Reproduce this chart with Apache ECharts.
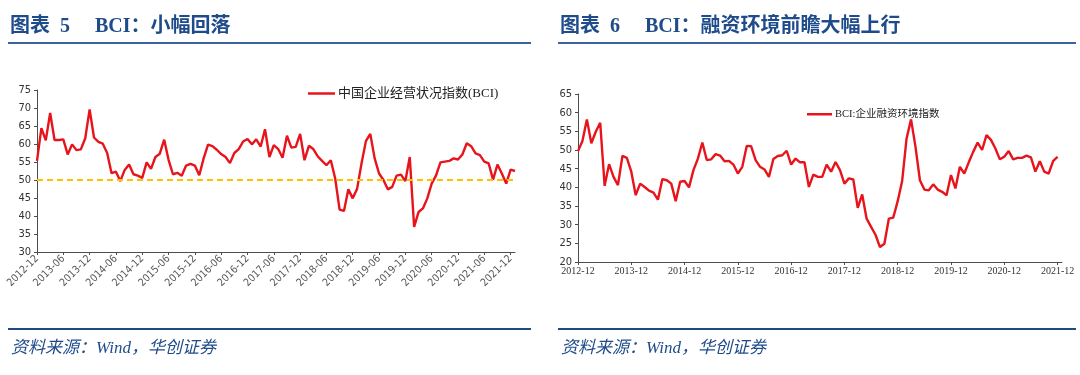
<!DOCTYPE html>
<html>
<head>
<meta charset="utf-8">
<script src="https://cdn.jsdelivr.net/npm/echarts@6/dist/echarts.min.js"></script>
<style>
html,body{margin:0;padding:0;background:#fff;}
#chart{width:1080px;height:375px;}
</style>
</head>
<body>
<div id="chart"></div>
<script>
// ---------- data ----------
const categories = [
  '2012-12',
  '2013-01','2013-02','2013-03','2013-04','2013-05','2013-06','2013-07','2013-08','2013-09','2013-10','2013-11','2013-12',
  '2014-01','2014-02','2014-03','2014-04','2014-05','2014-06','2014-07','2014-08','2014-09','2014-10','2014-11','2014-12',
  '2015-01','2015-02','2015-03','2015-04','2015-05','2015-06','2015-07','2015-08','2015-09','2015-10','2015-11','2015-12',
  '2016-01','2016-02','2016-03','2016-04','2016-05','2016-06','2016-07','2016-08','2016-09','2016-10','2016-11','2016-12',
  '2017-01','2017-02','2017-03','2017-04','2017-05','2017-06','2017-07','2017-08','2017-09','2017-10','2017-11','2017-12',
  '2018-01','2018-02','2018-03','2018-04','2018-05','2018-06','2018-07','2018-08','2018-09','2018-10','2018-11','2018-12',
  '2019-01','2019-02','2019-03','2019-04','2019-05','2019-06','2019-07','2019-08','2019-09','2019-10','2019-11','2019-12',
  '2020-01','2020-02','2020-03','2020-04','2020-05','2020-06','2020-07','2020-08','2020-09','2020-10','2020-11','2020-12',
  '2021-01','2021-02','2021-03','2021-04','2021-05','2021-06','2021-07','2021-08','2021-09','2021-10','2021-11','2021-12',
  '2022-01'
];

// 中国企业经营状况指数(BCI), 2012-12 .. 2022-01
const bciValues = [
  55.3, 64.4, 61.0, 68.6, 61.1, 61.1, 61.3, 57.1, 59.9, 58.3,
  58.5, 61.6, 69.6, 61.8, 60.6, 60.1, 57.5, 51.9, 52.3, 49.7,
  52.8, 54.3, 51.6, 51.2, 50.6, 54.9, 53.1, 56.4, 57.3, 61.2,
  55.6, 51.6, 52.0, 51.2, 54.0, 54.5, 54.0, 51.3, 56.0, 59.8,
  59.4, 58.4, 57.2, 56.4, 54.7, 57.5, 58.6, 60.7, 61.4, 59.9,
  61.3, 59.3, 64.1, 56.4, 59.7, 58.6, 56.2, 62.3, 59.0, 59.2,
  62.8, 55.5, 59.5, 58.6, 56.6, 55.3, 54.1, 55.5, 50.4, 41.8,
  41.4, 47.4, 44.9, 47.6, 54.6, 60.8, 62.8, 56.0, 51.8, 50.0,
  47.4, 48.1, 51.2, 51.5, 49.7, 56.4, 37.0, 41.1, 42.1, 44.9,
  49.0, 51.3, 54.9, 55.1, 55.3, 56.0, 55.7, 57.1, 60.2, 59.4,
  57.4, 56.9, 55.1, 54.6, 50.1, 54.3, 51.8, 49.0, 52.9, 52.5
];

// BCI:企业融资环境指数, 2012-12 .. 2021-12 (2022-01 not shown)
const financingValues = [
  49.7, 52.4, 58.2, 51.8, 54.9, 57.3, 40.4, 46.2, 42.8, 40.6,
  48.4, 47.9, 44.2, 37.9, 41.0, 40.1, 39.1, 38.6, 36.7, 42.2,
  41.9, 41.0, 36.3, 41.5, 41.7, 40.0, 44.6, 47.7, 52.0, 47.3,
  47.5, 48.9, 48.5, 47.0, 47.1, 46.1, 43.7, 45.5, 51.1, 51.0,
  47.3, 45.5, 44.8, 42.8, 47.6, 48.4, 48.6, 49.8, 46.1, 47.7,
  46.7, 46.7, 40.1, 43.4, 42.8, 42.8, 46.1, 44.2, 46.8, 44.6,
  41.0, 42.4, 42.1, 34.5, 38.1, 31.6, 29.4, 27.3, 24.0, 24.9,
  31.6, 31.9, 36.3, 41.7, 53.1, 58.2, 50.9, 41.9, 39.4, 39.2,
  40.8, 39.4, 38.8, 37.9, 43.3, 39.7, 45.5, 43.7, 46.7, 49.5,
  52.0, 50.0, 54.0, 52.7, 50.4, 47.5, 48.2, 49.7, 47.5, 47.9,
  47.9, 48.5, 48.0, 44.2, 47.0, 44.2, 43.7, 47.0, 48.2, null
];

const thresholdValue = 50;
const leftYTicks = {min: 30, max: 75, interval: 5};
const rightYTicks = {min: 20, max: 65, interval: 5};

const seriesNames = ['中国企业经营状况指数(BCI)', 'BCI:企业融资环境指数'];
const titles = ['图表  5     BCI：小幅回落', '图表  6     BCI：融资环境前瞻大幅上行'];
const sourceText = '资料来源：Wind，华创证券';

// ---------- styles ----------
const RED = '#E8141B';
const NAVY = '#1E4B8A';
const AXIS = '#4d4d4d';
const NARROW = "'Liberation Sans Narrow','DejaVu Sans Condensed','Roboto Condensed',sans-serif";
const SERIF = "'Liberation Serif','Noto Sans CJK SC',serif";

const chart = echarts.init(document.getElementById('chart'), null, {renderer: 'canvas'});

function yAxisCfg(gridIndex, t) {
  return {
    type: 'value', gridIndex: gridIndex,
    min: t.min, max: t.max, interval: t.interval,
    splitLine: {show: false},
    axisLine: {show: true, lineStyle: {color: AXIS, width: 1}},
    axisTick: {show: true, length: 3, lineStyle: {color: AXIS}},
    axisLabel: {color: '#333', fontSize: 11, fontFamily: NARROW, margin: 6}
  };
}

const titleStyle = {color: NAVY, fontSize: 20, fontWeight: 'bold', fontFamily: SERIF};
const sourceStyle = {color: NAVY, fontSize: 17, fontWeight: 'normal', fontStyle: 'italic', fontFamily: SERIF};

const option = {
  backgroundColor: '#fff',
  animation: false,
  title: [
    {text: titles[0], left: 5, top: 12, padding: 5, textStyle: titleStyle},
    {text: titles[1], left: 555, top: 12, padding: 5, textStyle: titleStyle},
    {text: sourceText, left: 6, top: 335, padding: 5, textStyle: sourceStyle},
    {text: sourceText, left: 556, top: 335, padding: 5, textStyle: sourceStyle}
  ],
  graphic: [
    {type: 'line', shape: {x1: 8, y1: 43, x2: 531, y2: 43}, style: {stroke: '#3A63A0', lineWidth: 2}},
    {type: 'line', shape: {x1: 558, y1: 43, x2: 1076, y2: 43}, style: {stroke: '#3A63A0', lineWidth: 2}},
    {type: 'line', shape: {x1: 8, y1: 329, x2: 531, y2: 329}, style: {stroke: '#1F4A85', lineWidth: 2}},
    {type: 'line', shape: {x1: 558, y1: 329, x2: 1076, y2: 329}, style: {stroke: '#1F4A85', lineWidth: 2}}
  ],
  legend: [
    {data: [seriesNames[0]], left: 303, top: 82, icon: 'rect', itemWidth: 27, itemHeight: 2.5,
     itemGap: 4, textStyle: {color: '#222', fontSize: 13, fontFamily: SERIF, padding: [0, 0, 0, -2]}},
    {data: [seriesNames[1]], left: 802, top: 104, icon: 'rect', itemWidth: 25, itemHeight: 2.5,
     itemGap: 4, textStyle: {color: '#222', fontSize: 10.5, fontFamily: SERIF, padding: [0, 0, 0, -2]}}
  ],
  grid: [
    {left: 37, top: 90, width: 478, height: 162},
    {left: 578, top: 94, width: 484, height: 168}
  ],
  xAxis: [
    {type: 'category', gridIndex: 0, data: categories, boundaryGap: false,
     axisLine: {show: true, lineStyle: {color: AXIS}},
     axisTick: {show: true, interval: 5, length: 3, lineStyle: {color: AXIS}},
     axisLabel: {interval: 5, rotate: 45, color: '#595959', fontSize: 10.5, fontFamily: NARROW, margin: 5}},
    {type: 'category', gridIndex: 1, data: categories, boundaryGap: false,
     axisLine: {show: true, lineStyle: {color: AXIS}},
     axisTick: {show: true, interval: 11, length: 3, lineStyle: {color: AXIS}},
     axisLabel: {interval: 11, color: '#333', fontSize: 10, fontFamily: SERIF, margin: 4}}
  ],
  yAxis: [yAxisCfg(0, leftYTicks), yAxisCfg(1, rightYTicks)],
  series: [
    {name: seriesNames[0], type: 'line', xAxisIndex: 0, yAxisIndex: 0, data: bciValues,
     symbol: 'none', lineStyle: {color: RED, width: 2.4}, itemStyle: {color: RED},
     markLine: {silent: true, symbol: 'none', label: {show: false},
       lineStyle: {color: '#FFC000', type: [6, 4], width: 2},
       data: [{yAxis: thresholdValue}]}},
    {name: seriesNames[1], type: 'line', xAxisIndex: 1, yAxisIndex: 1, data: financingValues,
     symbol: 'none', lineStyle: {color: RED, width: 2.4}, itemStyle: {color: RED}}
  ]
};
chart.setOption(option);
</script>
</body>
</html>
